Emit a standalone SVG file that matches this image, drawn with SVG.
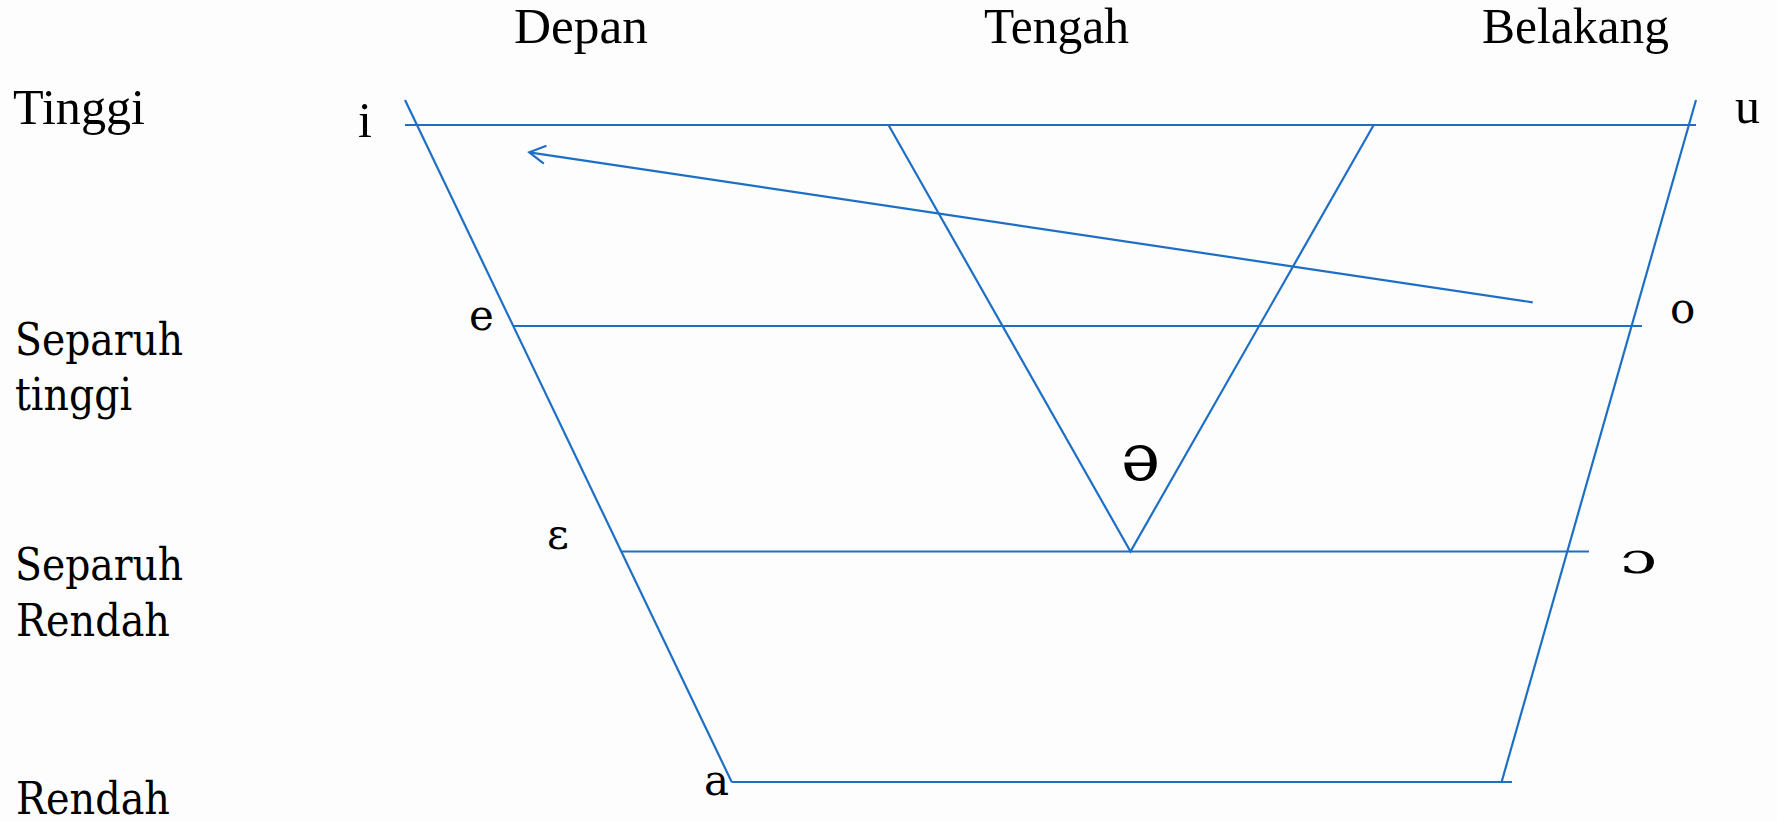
<svg xmlns="http://www.w3.org/2000/svg" width="1777" height="821" viewBox="0 0 1777 821">
  <style>
    .ln { stroke: #1d6fc6; stroke-width: 2.2; fill: none; stroke-linecap: butt; }
    .hd { font-family: "Liberation Serif", "Times New Roman", serif; font-size: 50px; fill: #000; }
    .lb { font-family: "DejaVu Serif", "Liberation Serif", serif; font-size: 44px; fill: #000; }
    .vw { font-family: "DejaVu Serif", "Liberation Serif", serif; font-size: 42px; fill: #000; }
    .vc { font-family: "Liberation Serif", "Times New Roman", serif; font-size: 50px; fill: #000; }
  </style>
  <defs>
    <marker id="open" viewBox="0 0 20 20" refX="18" refY="10" markerWidth="20" markerHeight="20" markerUnits="userSpaceOnUse" orient="auto">
      <path d="M2,1 L18,10 L2,19" fill="none" stroke="#1d6fc6" stroke-width="2.2"/>
    </marker>
  </defs>
  <rect width="1777" height="821" fill="#fdfdfd"/>

  <g id="headers">
    <text class="hd" x="514" y="43" textLength="134" lengthAdjust="spacingAndGlyphs">Depan</text>
    <text class="hd" x="984" y="43" textLength="145" lengthAdjust="spacingAndGlyphs">Tengah</text>
    <text class="hd" x="1482" y="43" textLength="187" lengthAdjust="spacingAndGlyphs">Belakang</text>
  </g>

  <g id="rows">
    <text class="hd" x="13" y="124" textLength="132" lengthAdjust="spacingAndGlyphs">Tinggi</text>
    <text class="lb" x="15" y="355" textLength="168" lengthAdjust="spacingAndGlyphs">Separuh</text>
    <text class="lb" x="15" y="410" textLength="117" lengthAdjust="spacingAndGlyphs">tinggi</text>
    <text class="lb" x="15" y="580" textLength="168" lengthAdjust="spacingAndGlyphs">Separuh</text>
    <text class="lb" x="16" y="636" textLength="154" lengthAdjust="spacingAndGlyphs">Rendah</text>
    <text class="lb" x="16" y="814" textLength="154" lengthAdjust="spacingAndGlyphs">Rendah</text>
  </g>

  <g id="vowels">
    <text id="v-i" class="vc" x="358" y="137">i</text>
    <text id="v-u" class="vc" x="1735" y="123">u</text>
    <text id="v-e" class="vw" x="469" y="330">e</text>
    <text id="v-o" class="vw" x="1670" y="323">o</text>
    <text id="v-schwa" class="vw" x="1121" y="480" style="font-size:66px">ə</text>
    <text id="v-eps" class="vw" x="547" y="549">ɛ</text>
    <text id="v-open-o" class="vw" x="1620" y="573" textLength="37" lengthAdjust="spacingAndGlyphs">ɔ</text>
    <text id="v-a" class="vw" x="704" y="795">a</text>
  </g>

  <g id="connectors">
    <line class="ln" x1="405" y1="100" x2="731.7" y2="782"/>
    <line class="ln" x1="1696" y1="100" x2="1501.6" y2="782"/>
    <line class="ln" x1="405" y1="125" x2="1696" y2="125"/>
    <line class="ln" x1="513" y1="326" x2="1642" y2="326"/>
    <line class="ln" x1="621" y1="551.5" x2="1589" y2="551.5"/>
    <line class="ln" x1="731.7" y1="782" x2="1512" y2="782"/>
    <polyline class="ln" points="888.5,125 1130.5,551.5 1373.7,125"/>
    <line class="ln" x1="1532.7" y1="302.3" x2="529.3" y2="152.3" marker-end="url(#open)"/>
  </g>
</svg>
